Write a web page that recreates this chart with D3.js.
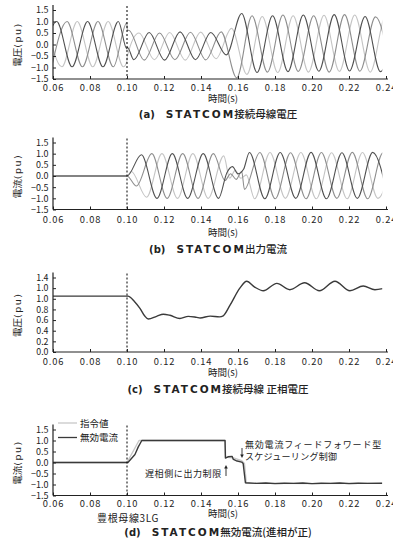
<!DOCTYPE html>
<html>
<head>
<meta charset="utf-8">
<script src="https://cdn.jsdelivr.net/npm/d3@7"></script>
<style>
  body { margin: 0; background: #fff; }
  svg text { font-family: "Noto Sans CJK JP", "DejaVu Sans", sans-serif; fill: #222; }
</style>
</head>
<body>
<svg id="chart"></svg>
<script>
// ---- data ----
const xTicks = [0.06, 0.08, 0.10, 0.12, 0.14, 0.16, 0.18, 0.20, 0.22, 0.24];
const xTickLabels = ["0.06", "0.08", "0.10", "0.12", "0.14", "0.16", "0.18", "0.20", "0.22", "0.24"];
const puTicks = [-1.5, -1.0, -0.5, 0, 0.5, 1.0, 1.5];
const puTickLabels = ["\u22121.5", "\u22121.0", "\u22120.5", "0.0", "0.5", "1.0", "1.5"];
const posTicks = [0, 0.2, 0.4, 0.6, 0.8, 1.0, 1.2, 1.4];
const posTickLabels = ["0.0", "0.2", "0.4", "0.6", "0.8", "1.0", "1.0", "1.4"];
const faultTime = 0.10;
const simEnd = 0.238;

// (a) bus voltage, extremes of each phase [time, pu]
const voltA = [[0.0537,-0.97],[0.0620,1.0],[0.0703,-0.97],[0.0787,1.0],[0.0870,-0.97],[0.0953,1.0],[0.0999,-0.19],[0.1002,-0.12],
  [0.1037,-0.66],[0.1120,0.52],[0.1203,-0.68],[0.1287,0.55],[0.1370,-0.66],[0.1453,0.52],[0.1537,-0.45],[0.1620,1.35],
  [0.1703,-1.22],[0.1787,1.25],[0.1870,-1.18],[0.1953,1.28],[0.2037,-1.16],[0.2120,1.3],[0.2203,-1.15],[0.2287,1.22],[0.2370,-1.18],[0.2453,1.2]];
const voltB = [[0.0593,-0.97],[0.0676,1.0],[0.0759,-0.97],[0.0843,1.0],[0.0926,-0.97],[0.0999,0.94],[0.1002,0.6],[0.1009,0.62],
  [0.1093,-0.68],[0.1176,0.5],[0.1259,-0.66],[0.1343,0.53],[0.1426,-0.67],[0.1509,0.55],[0.1593,-1.45],[0.1676,1.25],
  [0.1759,-1.2],[0.1843,1.28],[0.1926,-1.17],[0.2009,1.25],[0.2093,-1.2],[0.2176,1.3],[0.2259,-1.16],[0.2343,1.2],[0.2426,-1.18]];
const voltC = [[0.0565,1.0],[0.0648,-0.97],[0.0731,1.0],[0.0815,-0.97],[0.0898,1.0],[0.0981,-0.97],[0.0999,-0.75],[0.1002,-0.5],
  [0.1065,0.5],[0.1148,-0.66],[0.1231,0.52],[0.1315,-0.68],[0.1398,0.54],[0.1481,-0.62],[0.1565,0.7],[0.1648,-1.3],
  [0.1731,1.22],[0.1815,-1.22],[0.1898,1.25],[0.1981,-1.2],[0.2065,1.27],[0.2148,-1.17],[0.2231,1.28],[0.2315,-1.2],[0.2398,1.22],[0.2481,-1.2]];

// (b) STATCOM output current, extremes of each phase
const currA = [[0.0600,0],[0.1000,0],[0.1078,0.95],[0.1162,-1.0],[0.1245,1.0],[0.1328,-1.0],[0.1412,1.0],[0.1495,-1.0],
  [0.1540,0.15],[0.1570,0.42],[0.1600,0.1],[0.1630,0.3],[0.1662,1.05],[0.1745,-1.02],[0.1828,1.05],[0.1912,-1.0],
  [0.1995,1.06],[0.2078,-1.02],[0.2162,1.04],[0.2245,-1.0],[0.2328,1.06],[0.2412,-1.02]];
const currB = [[0.0600,0],[0.1000,0],[0.1051,-0.45],[0.1134,1.0],[0.1217,-1.0],[0.1301,1.0],[0.1384,-1.0],[0.1467,1.0],
  [0.1530,-0.2],[0.1560,0.1],[0.1590,-0.15],[0.1620,0.2],[0.1635,-0.6],[0.1718,1.05],[0.1801,-1.02],[0.1884,1.04],
  [0.1968,-1.02],[0.2051,1.05],[0.2134,-1.0],[0.2218,1.06],[0.2301,-1.02],[0.2384,1.04],[0.2468,-1.0]];
const currC = [[0.0600,0],[0.1000,0],[0.1023,0.2],[0.1106,-0.95],[0.1189,1.0],[0.1273,-1.0],[0.1356,1.0],[0.1439,-1.0],
  [0.1523,0.9],[0.1555,-0.1],[0.1585,0.25],[0.1615,-0.1],[0.1645,0.05],[0.1690,-1.02],[0.1773,1.05],[0.1856,-1.0],
  [0.1940,1.05],[0.2023,-1.02],[0.2106,1.04],[0.2190,-1.02],[0.2273,1.05],[0.2356,-1.0],[0.2440,1.04]];

// (c) positive-sequence bus voltage
const posSeqVolt = [[0.06,1.05],[0.1005,1.05],[0.104,0.95],[0.107,0.82],[0.1095,0.68],[0.1115,0.62],[0.116,0.67],
  [0.1196,0.71],[0.1232,0.69],[0.1286,0.63],[0.1331,0.67],[0.1377,0.65],[0.1395,0.64],[0.145,0.675],[0.150,0.66],
  [0.152,0.68],[0.1557,0.88],[0.161,1.2],[0.1647,1.33],[0.169,1.22],[0.1737,1.15],[0.181,1.29],[0.188,1.17],
  [0.196,1.3],[0.204,1.15],[0.2124,1.33],[0.2205,1.15],[0.2277,1.24],[0.234,1.17],[0.2382,1.19]];

// (d) reactive current: command and measured
const iqRef = [[0.06,0],[0.1,0],[0.1065,1.0],[0.153,1.0],[0.1533,0.25],[0.158,0.2],[0.162,0.08],[0.1635,-0.05],
  [0.1645,-0.95],[0.18,-0.94],[0.20,-0.96],[0.22,-0.94],[0.238,-0.95]];
const iqMeas = [[0.06,0],[0.1005,0],[0.1043,0.36],[0.1061,0.71],[0.108,1.0],[0.153,1.0],[0.1532,0.2],[0.1546,0.26],
  [0.1568,0.28],[0.1575,0.14],[0.159,0.08],[0.162,0.02],[0.1628,-0.05],[0.164,-0.92],[0.17,-0.95],[0.175,-0.93],
  [0.18,-0.96],[0.185,-0.94],[0.19,-0.95],[0.195,-0.93],[0.20,-0.96],[0.205,-0.94],[0.21,-0.95],[0.215,-0.93],
  [0.22,-0.96],[0.225,-0.94],[0.23,-0.95],[0.238,-0.94]];

// ---- layout ----
const W = 393, H = 541;
const svg = d3.select("#chart").attr("width", W).attr("height", H);
svg.append("rect").attr("width", W).attr("height", H).attr("fill", "#fff");

const x = d3.scaleLinear().domain([0.06, 0.24]).range([53, 386]);
const phaseColors = ["#505050", "#8e8e8e", "#c4c4c4"];

const panels = [
  { id: "a", yTop: 10, yBot: 79, domain: [-1.5, 1.5], ticks: puTicks, labels: puTickLabels, pad: 5,
    ylab: ["電圧", "(pu)"], title: ["(a)", "STATCOM", "接続母線電圧"], titleY: 118, xlabY: 102, yFont: 9,
    series: [[voltC, phaseColors[2]], [voltB, phaseColors[1]], [voltA, phaseColors[0]]] },
  { id: "b", yTop: 142.5, yBot: 209.5, domain: [-1.5, 1.5], ticks: puTicks, labels: puTickLabels, pad: 6.8,
    ylab: ["電流", "(pu)"], title: ["(b)", "STATCOM", "出力電流"], titleY: 253, xlabY: 236, yFont: 9,
    series: [[currC, phaseColors[2]], [currB, phaseColors[1]], [currA, phaseColors[0]]] },
  { id: "c", yTop: 277.5, yBot: 352, domain: [0, 1.4], ticks: posTicks, labels: posTickLabels, pad: 6.2,
    ylab: ["電圧", "(pu)"], title: ["(c)", "STATCOM", "接続母線 正相電圧"], titleY: 393, xlabY: 376, yFont: 8.8,
    series: [[posSeqVolt, "#3a3a3a"]] },
  { id: "d", yTop: 429.5, yBot: 495.5, domain: [-1.5, 1.5], ticks: puTicks, labels: puTickLabels, pad: 5.2,
    ylab: ["電流", "(pu)"], title: ["(d)", "STATCOM", "無効電流(進相が正)"], titleY: 536, xlabY: 516.5, yFont: 9,
    series: [[iqRef, "#c8c8c8"], [iqMeas, "#3a3a3a"]] }
];

panels.forEach(p => {
  const y = d3.scaleLinear().domain(p.domain).range([p.yBot, p.yTop]);
  const g = svg.append("g").attr("class", "panel-" + p.id);

  // clip so traces stay inside the simulated span
  g.append("clipPath").attr("id", "clip-" + p.id)
    .append("rect")
    .attr("x", x(0.06)).attr("y", p.yTop - 8)
    .attr("width", x(simEnd) - x(0.06)).attr("height", p.yBot - p.yTop + 8);

  const line = d3.line()
    .x(d => x(d[0]))
    .y(d => y(d[1]))
    .curve(p.id === "d" ? d3.curveLinear : d3.curveMonotoneX);

  const traces = g.append("g").attr("clip-path", `url(#clip-${p.id})`);
  p.series.forEach(([data, color]) => {
    traces.append("path")
      .datum(data)
      .attr("fill", "none")
      .attr("stroke", color)
      .attr("stroke-width", p.id === "a" || p.id === "b" ? 1.1 : 1.4)
      .attr("stroke-linejoin", "round")
      .attr("d", line);
  });

  // fault instant
  g.append("line")
    .attr("x1", x(faultTime)).attr("x2", x(faultTime))
    .attr("y1", p.yTop - 4).attr("y2", p.yBot)
    .attr("stroke", "#000").attr("stroke-width", 1)
    .attr("stroke-dasharray", "2,2");

  // axes (ticks point inward)
  const xAxis = d3.axisBottom(x).tickValues(xTicks)
    .tickFormat((d, i) => xTickLabels[i])
    .tickSizeInner(-3).tickSizeOuter(0).tickPadding(p.pad);
  const gx = g.append("g").attr("class", "axis x-axis")
    .attr("transform", `translate(0,${p.yBot})`).call(xAxis);
  gx.select(".domain").remove();
  gx.selectAll("line").attr("stroke", "#222");
  gx.selectAll("text").attr("font-family", "DejaVu Sans").attr("font-size", 9.3)
    .attr("fill", "#333").attr("letter-spacing", 0.9);

  const yAxis = d3.axisLeft(y).tickValues(p.ticks)
    .tickFormat((d, i) => p.labels[i])
    .tickSizeInner(-3).tickSizeOuter(0).tickPadding(4.5);
  const gy = g.append("g").attr("class", "axis y-axis")
    .attr("transform", `translate(${x(0.06)},0)`).call(yAxis);
  gy.select(".domain").remove();
  gy.selectAll("line").attr("stroke", "#222");
  gy.selectAll("text").attr("font-family", "DejaVu Sans").attr("font-size", p.yFont).attr("fill", "#333");

  // axis lines
  g.append("line").attr("x1", x(0.06)).attr("x2", x(0.24) + 2)
    .attr("y1", p.yBot).attr("y2", p.yBot).attr("stroke", "#222").attr("stroke-width", 1.2);
  g.append("line").attr("x1", x(0.06)).attr("x2", x(0.06))
    .attr("y1", p.yBot).attr("y2", p.yTop - 5).attr("stroke", "#222").attr("stroke-width", 1.2);

  // y label
  const yl = g.append("text")
    .attr("transform", `translate(21,${(p.yTop + p.yBot) / 2}) rotate(-90)`)
    .attr("text-anchor", "middle").attr("font-size", 9.5).attr("fill", "#333");
  yl.append("tspan").text(p.ylab[0]);
  yl.append("tspan").attr("font-family", "DejaVu Sans").attr("letter-spacing", 1.5).text(p.ylab[1]);

  // x label
  g.append("text").attr("x", 223).attr("y", p.xlabY)
    .attr("text-anchor", "middle").attr("font-size", 9.5).attr("fill", "#333")
    .text("時間(s)");

  // caption
  const t = g.append("text").attr("x", 218).attr("y", p.titleY)
    .attr("text-anchor", "middle").attr("fill", "#111");
  t.append("tspan").attr("font-family", "DejaVu Sans").attr("font-weight", "bold")
    .attr("font-size", 10).text(p.title[0]);
  t.append("tspan").attr("dx", 11).attr("font-family", "DejaVu Sans").attr("font-weight", "bold")
    .attr("font-size", 10.5).attr("letter-spacing", 2).text(p.title[1]);
  t.append("tspan").attr("dx", -1).attr("font-size", 10.5).attr("font-weight", 500).text(p.title[2]);
});

// ---- legend and notes of panel (d) ----
const legendItems = [["指令値", "#c8c8c8"], ["無効電流", "#3a3a3a"]];
const leg = svg.append("g").attr("class", "legend");
legendItems.forEach(([name, color], i) => {
  const ly = 423 + i * 14.5;
  leg.append("line").attr("x1", 58).attr("x2", 77).attr("y1", ly).attr("y2", ly)
    .attr("stroke", color).attr("stroke-width", 1.3);
  leg.append("text").attr("x", 80).attr("y", ly + 3.5).attr("font-size", 9.5).attr("fill", "#333").text(name);
});

svg.append("text").attr("x", 128).attr("y", 522).attr("text-anchor", "middle")
  .attr("font-size", 10).attr("fill", "#333").attr("letter-spacing", 0.6).text("豊根母線3LG");

const notes = svg.append("g").attr("class", "notes").attr("font-size", 9);
notes.append("text").attr("x", 145).attr("y", 477).attr("fill", "#333").attr("letter-spacing", 0.6).text("遅相側に出力制限");
notes.append("text").attr("x", 245).attr("y", 448).attr("fill", "#333").attr("letter-spacing", 0.8).text("無効電流フィードフォワード型");
notes.append("text").attr("x", 245).attr("y", 460).attr("fill", "#333").attr("letter-spacing", 0.3).text("スケジューリング制御");

function arrow(xp, yFrom, yTo) {
  const dir = yTo < yFrom ? 1 : -1;
  notes.append("line").attr("x1", xp).attr("x2", xp).attr("y1", yFrom).attr("y2", yTo + dir * 2)
    .attr("stroke", "#222").attr("stroke-width", 0.9);
  notes.append("path")
    .attr("d", `M${xp},${yTo} L${xp - 1.8},${yTo + dir * 3.5} L${xp + 1.8},${yTo + dir * 3.5} Z`)
    .attr("fill", "#222");
}
arrow(226, 476, 465);
arrow(242, 448, 458);
</script>
</body>
</html>
